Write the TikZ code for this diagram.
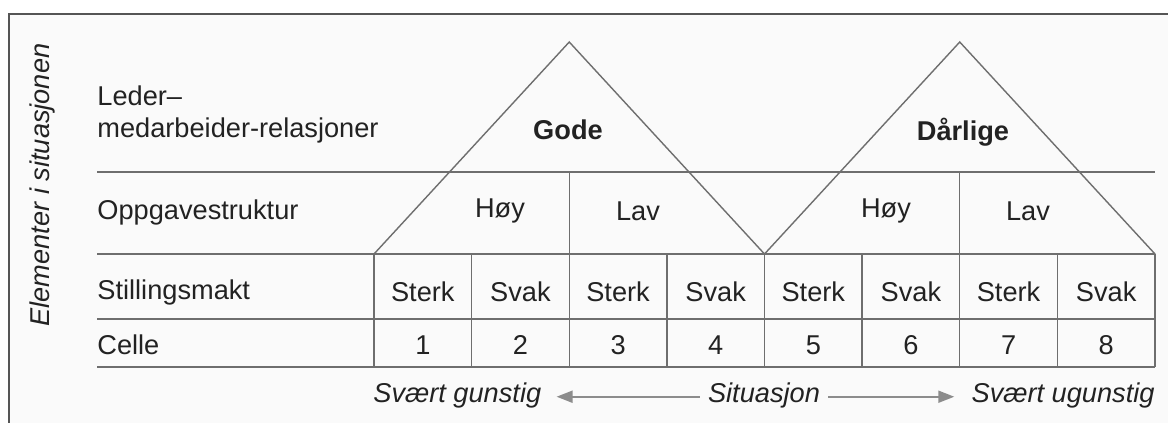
\documentclass[tikz,border=0pt]{standalone}
\usepackage{fontspec}
\setmainfont{Liberation Sans}
\usetikzlibrary{arrows.meta}
\definecolor{linje}{HTML}{6E6E6E}
\definecolor{ramme}{HTML}{555555}
\definecolor{pilfarge}{HTML}{8C8C8C}
\definecolor{tekst}{HTML}{222222}
\begin{document}
\begin{tikzpicture}[x=0.5pt,y=-0.5pt,
  gitter/.style={linje, line width=0.7pt},
  txt/.style={inner sep=0pt, text=tekst, font=\fontsize{13.6}{16}\selectfont},
  rad/.style={txt, anchor=west},
  kursiv/.style={txt, font=\fontsize{13.6}{16}\selectfont\itshape},
  fet/.style={txt, font=\fontsize{13.6}{16}\selectfont\bfseries},
  pil/.style={pilfarge, line width=1pt, -{Triangle[length=8pt,width=6pt]}}]
  \useasboundingbox (0,0) rectangle (1168,423);
  \clip (0,0) rectangle (1168,423);
  % Ramme
  \draw[ramme, line width=1.1pt, fill=black!2] (9,14) rectangle (1185,445);

  % Horisontale linjer
  \foreach \y in {172,254,319,367}
    \draw[gitter] (97,\y) -- (1155,\y);

  % Trekanter
  \foreach \cx in {569.25,959.75}
    \draw[gitter] (\cx-195.25,254) -- (\cx,42) -- (\cx+195.25,254);

  % Vertikale linjer
  \foreach \i in {0,...,8}
    \draw[gitter] (374+97.625*\i,254) -- (374+97.625*\i,367);
  \foreach \i in {2,6}
    \draw[gitter] (374+97.625*\i,172) -- (374+97.625*\i,254);

  % Radtekster
  \node[kursiv, rotate=90] (elem) at (42,185) {Elementer i situasjonen};
  \node[rad, align=left] (leder) at (97,114) {Leder–\\medarbeider-relasjoner};
  \node[rad] (oppg) at (97,212) {Oppgavestruktur};
  \node[rad] (still) at (97,292) {Stillingsmakt};
  \node[rad] (celle) at (97,345) {Celle};

  % Relasjoner og oppgavestruktur
  \node[fet] (gode) at (568,130) {Gode};
  \node[fet] (darlige) at (963,132) {Dårlige};
  \node[txt] (hoy1) at (500,211) {Høy};
  \node[txt] (lav1) at (638,211) {Lav};
  \node[txt] (hoy2) at (886,211) {Høy};
  \node[txt] (lav2) at (1028,211) {Lav};

  % Stillingsmakt og celler
  \foreach \i in {0,...,7}{
    \pgfmathtruncatemacro{\n}{\i+1}
    \pgfmathsetmacro{\m}{374+97.625*(\i+0.5)}
    \ifodd\i
      \node[txt] (makt\n) at (\m,292) {Svak};
    \else
      \node[txt] (makt\n) at (\m,292) {Sterk};
    \fi
    \node[txt] (celle\n) at (\m,345) {\n};
  }

  % Situasjon
  \node[kursiv, anchor=base west] (gunstig) at (373,402) {Svært gunstig};
  \node[kursiv, anchor=base] (sit) at (764,402) {Situasjon};
  \node[kursiv, anchor=base east] (ugunstig) at (1155,402) {Svært ugunstig};
  \draw[pil, shorten <=4pt, shorten >=7.5pt] (sit.mid west) -- (gunstig.mid east);
  \draw[pil, shorten <=4pt, shorten >=8.5pt] (sit.mid east) -- (ugunstig.mid west);
\end{tikzpicture}
\end{document}
